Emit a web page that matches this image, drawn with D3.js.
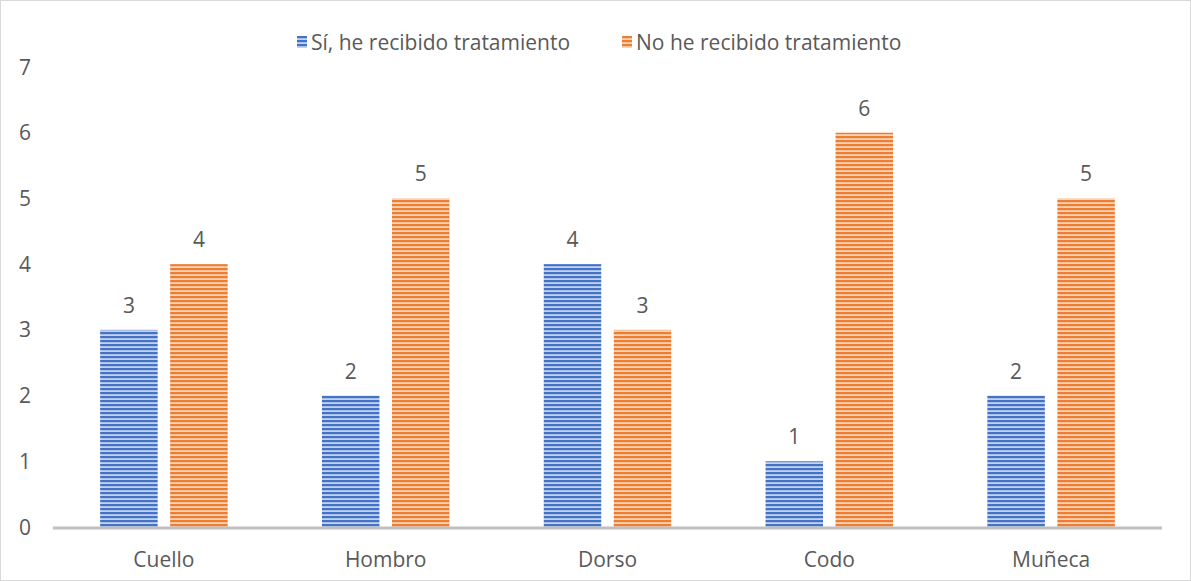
<!DOCTYPE html>
<html>
<head>
<meta charset="utf-8">
<script src="https://cdn.jsdelivr.net/npm/d3@7"></script>
<style>
  body { margin: 0; background: #fff; }
  svg text { font-family: "Open Sans", sans-serif; fill: #595959; }
</style>
</head>
<body>
<div id="chart"></div>
<script>
// data
const categories = ['Cuello', 'Hombro', 'Dorso', 'Codo', 'Muñeca']
const seriesNames = ['Sí, he recibido tratamiento', 'No he recibido tratamiento']
const treated = [3, 2, 4, 1, 2]
const notTreated = [4, 5, 3, 6, 5]
const yTicks = [0, 1, 2, 3, 4, 5, 6, 7]

const width = 1191
const height = 581
const margin = {top: 67, right: 29, bottom: 54, left: 53}
const colors = ['#4472C4', '#ED7D31']
const lightColors = ['#c3d3ee', '#f9d3b8']
const fontSize = 21

const svg = d3.select('#chart').append('svg')
	.attr('width', width)
	.attr('height', height)

// striped fills
const defs = svg.append('defs')
colors.forEach((c, i) => {
	const p = defs.append('pattern')
		.attr('id', 'stripe' + i)
		.attr('patternUnits', 'userSpaceOnUse')
		.attr('width', 8).attr('height', 4)
	p.append('rect').attr('width', 8).attr('height', 4).attr('fill', lightColors[i])
	p.append('rect').attr('width', 8).attr('height', 2.2).attr('fill', c)
})

svg.append('rect')
	.attr('x', 0.5).attr('y', 0.5)
	.attr('width', width - 1).attr('height', height - 1)
	.attr('fill', '#fff').attr('stroke', '#d9d9d9')

const x = d3.scaleBand()
	.domain(categories)
	.range([margin.left, width - margin.right])

const y = d3.scaleLinear()
	.domain([0, 7])
	.range([height - margin.bottom, margin.top])

const barW = 57.5
const offsets = [-35, 35]
const series = [treated, notTreated]

series.forEach((vals, si) => {
	const g = svg.append('g')
	g.selectAll('rect')
		.data(vals)
		.enter().append('rect')
		.attr('x', (d, i) => x(categories[i]) + x.bandwidth() / 2 + offsets[si] - barW / 2)
		.attr('y', d => y(d))
		.attr('width', barW)
		.attr('height', d => y(0) - y(d))
		.attr('fill', `url(#stripe${si})`)
	g.selectAll('text')
		.data(vals)
		.enter().append('text')
		.attr('x', (d, i) => x(categories[i]) + x.bandwidth() / 2 + offsets[si])
		.attr('y', d => y(d) - 17)
		.attr('text-anchor', 'middle')
		.attr('font-size', fontSize)
		.text(d => d)
})

// x axis line
svg.append('line')
	.attr('x1', margin.left).attr('x2', width - margin.right)
	.attr('y1', y(0) + 1).attr('y2', y(0) + 1)
	.attr('stroke', '#bfbfbf').attr('stroke-width', 3)

svg.append('g').selectAll('text')
	.data(categories)
	.enter().append('text')
	.attr('x', d => x(d) + x.bandwidth() / 2)
	.attr('y', height - margin.bottom + 40)
	.attr('text-anchor', 'middle')
	.attr('font-size', fontSize)
	.text(d => d)

svg.append('g').selectAll('text')
	.data(yTicks)
	.enter().append('text')
	.attr('x', 25)
	.attr('y', d => y(d) + 7.5)
	.attr('text-anchor', 'middle')
	.attr('font-size', fontSize)
	.text(d => d)

// legend
const legendX = [297, 622]
seriesNames.forEach((n, i) => {
	svg.append('rect')
		.attr('x', legendX[i]).attr('y', 36)
		.attr('width', 10).attr('height', 12)
		.attr('fill', `url(#stripe${i})`)
	svg.append('text')
		.attr('x', legendX[i] + 14).attr('y', 50)
		.attr('font-size', fontSize)
		.text(n)
})
</script>
</body>
</html>
